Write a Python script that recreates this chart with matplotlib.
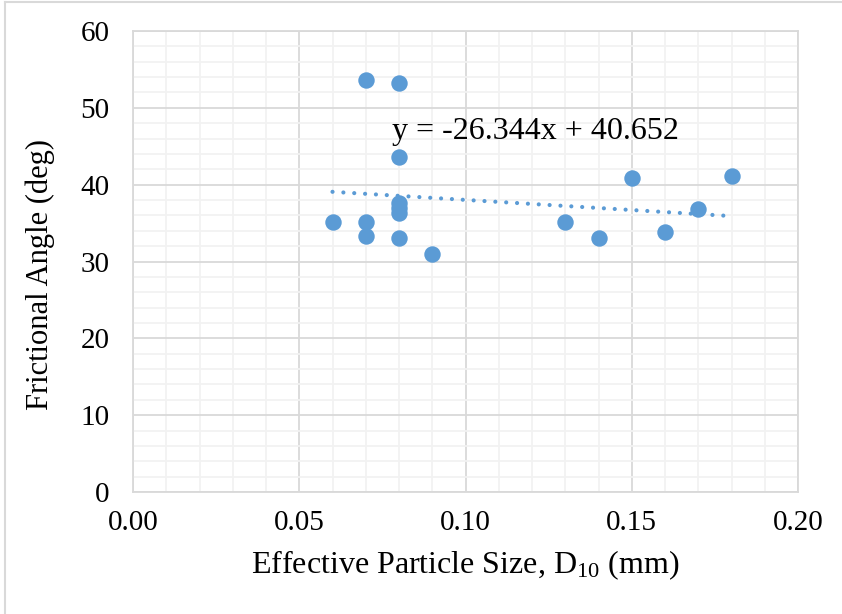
import numpy as np
import matplotlib
matplotlib.use('Agg')
import matplotlib.pyplot as plt
from matplotlib.ticker import MultipleLocator, FormatStrFormatter
from matplotlib.lines import Line2D

plt.rcParams['font.family'] = ['Liberation Serif', 'DejaVu Serif']
plt.rcParams['mathtext.fontset'] = 'custom'
plt.rcParams['mathtext.rm'] = 'Liberation Serif'

# Data
d10 = [0.06, 0.07, 0.07, 0.07, 0.08, 0.08, 0.08, 0.08, 0.08, 0.08,
       0.09, 0.13, 0.14, 0.15, 0.16, 0.17, 0.18]
phi = [35.2, 53.6, 35.1, 33.3, 53.2, 43.6, 37.6, 36.9, 36.3, 33.1,
       31.0, 35.1, 33.1, 40.9, 33.8, 36.8, 41.1]
slope, intercept = -26.344, 40.652

blue = '#5B9BD5'

fig = plt.figure(figsize=(8.42, 6.14), dpi=100)
ax = fig.add_axes([133/842, 1 - 492/614, 665/842, 461/614])

ax.scatter(d10, phi, s=140, color=blue, zorder=3, linewidths=0)

# linear trendline
xt = np.array([min(d10), max(d10)])
ax.plot(xt, slope * xt + intercept, color=blue, lw=3,
        linestyle=(0, (0.01, 2.6)), dash_capstyle='round', zorder=2)
ax.text(0.0778, 46.9, 'y = -26.344x + 40.652', fontsize=23, va='center', ha='left')

ax.set_xlim(0, 0.2)
ax.set_ylim(0, 60)
ax.xaxis.set_major_locator(MultipleLocator(0.05))
ax.xaxis.set_minor_locator(MultipleLocator(0.01))
ax.yaxis.set_major_locator(MultipleLocator(10))
ax.yaxis.set_minor_locator(MultipleLocator(2))
ax.xaxis.set_major_formatter(FormatStrFormatter('%.2f'))

ax.grid(which='major', color='#D9D9D9', lw=1.3, zorder=0)
ax.grid(which='minor', color='#F2F2F2', lw=1.3, zorder=0)
ax.set_axisbelow(True)
for s in ax.spines.values():
    s.set_color('#D9D9D9')
    s.set_linewidth(1.3)

ax.tick_params(which='both', length=0, labelsize=21)
ax.tick_params(axis='x', pad=13)
ax.tick_params(axis='y', pad=17)

ax.set_xlabel(r'Effective Particle Size, $\mathregular{D_{10}}$ (mm)', fontsize=23, labelpad=9)
ax.set_ylabel('Frictional Angle (deg)', fontsize=22, labelpad=8)
ax.yaxis.set_label_coords(-0.118, 0.472)

# chart border
fig.add_artist(Line2D([5/842, 5/842], [0, 1 - 2/614], color='#D9D9D9', lw=1.5))
fig.add_artist(Line2D([5/842, 1], [1 - 2/614, 1 - 2/614], color='#D9D9D9', lw=1.5))

fig.savefig('out.png', dpi=100)
